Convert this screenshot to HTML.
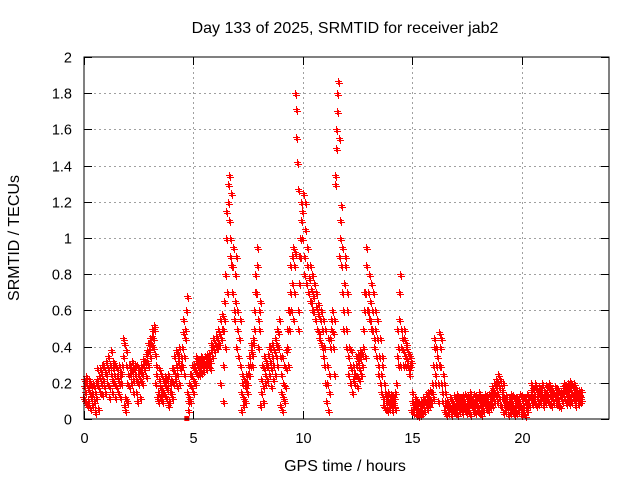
<!DOCTYPE html>
<html><head><meta charset="utf-8"><style>
body{margin:0;background:#fff;}
svg{display:block;font-family:"Liberation Sans",sans-serif;}
</style></head><body>
<svg id="chart" width="640" height="480">
<rect width="640" height="480" fill="#fff"/>
<text x="345" y="33" font-size="16" text-anchor="middle">Day 133 of 2025, SRMTID for receiver jab2</text>
<text x="345" y="471" font-size="16" text-anchor="middle">GPS time / hours</text>
<text transform="translate(19,238) rotate(-90)" font-size="16" text-anchor="middle">SRMTID / TECUs</text>
<g id="grid"></g>
<g id="ticks"></g>
<g id="marks"></g>
<rect x="84" y="57" width="525" height="362" fill="none" stroke="#000" stroke-width="1"/>
</svg>
<script>
const xTicks=[0,5,10,15,20];
const yTicks=[0,0.2,0.4,0.6,0.8,1,1.2,1.4,1.6,1.8,2];
const yTickLabels=["0","0.2","0.4","0.6","0.8","1","1.2","1.4","1.6","1.8","2"];
const tec=[
[.12,.18,.22,.1],[.15,.2,.24,.08],[.1,.17,.22,.2],[.06,.14,.19,.12],[.08,.15,.2,.18],[.1,.04,.15,.2],[.12,.22,.28,.06],[.18,.24,.28,.15],[.2,.26,.14,.3],[.22,.3,.18,.26],
[.15,.25,.32,.2],[.2,.28,.35,.12],[.18,.3,.38,.25],[.15,.22,.32,.28],[.2,.25,.3,.12],[.18,.24,.28,.22],[.15,.2,.3,.25],[.12,.2,.26,.3],[.35,.45,.42,.08],[.05,.12,.3,.38],
[.1,.2,.25,.3],[.18,.25,.3,.28],[.2,.27,.32,.15],[.22,.28,.3,.25],[.15,.22,.3,.1],[.2,.25,.28,.12],[.22,.26,.3,.2],[.25,.3,.33,.28],[.28,.32,.36,.24],[.32,.38,.42,.3],
[.38,.42,.45,.35],[.42,.46,.5,.4],[.45,.5,.52,.36],[.2,.25,.3,.12],[.1,.15,.22,.28],[.12,.18,.25,.14],[.1,.16,.22,.2],[.14,.2,.24,.18],[.12,.17,.22,.25],[.08,.1,.15,.2],
[.15,.22,.28,.12],[.2,.28,.35,.25],[.22,.3,.38,.18],[.25,.32,.36,.4],[.2,.28,.35,.3],[.3,.4,.48,.55],[.25,.35,.45,.5],[.6,.68,.15,.1],[.05,.12,.2,.25],[.1,.18,.25,.3],
[.15,.22,.28,.3],[.2,.27,.32,.35],[.25,.3,.33,.28],[.25,.28,.32,.35],[.26,.3,.34,.28],[.27,.31,.35,.3],[.28,.3,.33,.36],[.3,.33,.36,.28],[.32,.38,.42,.35],[.35,.4,.45,.38],
[.38,.42,.46,.4],[.4,.45,.5,.42],[.42,.48,.55,.2],[.45,.5,.58,.1,.3],[.5,.55,.65,.4],[.8,1.0,1.15,.7],[1.2,1.3,1.35,1.1],[.9,1.0,1.25,.85],[.7,.85,.95,.6],[.55,.65,.8,.9],
[.4,.5,.6,.35],[.35,.45,.55,.3],[.05,.15,.2,.25],[.08,.12,.22,.18],[.1,.2,.25,.15],[.2,.25,.3,.35],[.25,.3,.38,.42],[.3,.36,.42,.45],[.5,.6,.7,.8],[.7,.85,.95,.55],
[.4,.5,.6,.65],[.08,.15,.22,.3],[.1,.18,.28,.35],[.2,.25,.32,.3],[.22,.3,.36,.4],[.25,.32,.4,.18],[.28,.35,.42,.22],[.3,.38,.45,.25],[.35,.42,.5,.3],[.4,.48,.55,.35],
[.08,.15,.25,.35],[.05,.12,.2,.3],[.1,.18,.28,.38],[.4,.5,.6,.3],[.5,.6,.7,.85],[.6,.75,.9,.95],[.55,.7,.85,.92],[1.8,1.71,1.56,1.42,1.27],[.5,.6,.75,.9],[.9,1.0,1.1,1.2],
[1.0,1.15,1.25,.8],[.9,1.05,1.2,.75],[.75,.85,.95,.7],[.7,.78,.85,.65],[.65,.72,.8,.6],[.6,.68,.75,.55],[.55,.62,.7,.5],[.5,.58,.64,.45],[.48,.55,.6,.42],[.4,.5,.55,.35],
[.3,.4,.5,.2],[.1,.2,.3,.45],[.05,.15,.25,.4],[.45,.5,.55,.6],[.4,.48,.55,.25],[1.3,1.35,1.5,1.6],[1.7,1.8,1.87,1.55],[.9,1.0,1.1,1.18],[.85,.95,.7,.5],[.6,.75,.85,.9],
[.4,.5,.6,.7],[.25,.35,.4,.3],[.2,.28,.38,.15],[.15,.22,.3,.25],[.2,.25,.3,.35],[.18,.24,.32,.36],[.22,.28,.34,.38],[.25,.3,.36,.4],[.5,.6,.7,.35],[.7,.85,.95,.6],
[.6,.7,.8,.55],[.55,.65,.75,.5],[.5,.6,.7,.45],[.4,.5,.6,.35],[.35,.45,.55,.3],[.25,.35,.45,.2],[.15,.25,.35,.3],[.08,.12,.2,.15],[.06,.1,.14,.12],[.05,.1,.15,.08],
[.06,.1,.14,.12],[.05,.09,.13,.1],[.08,.12,.15,.06],[.2,.35,.5,.3],[.4,.55,.7,.8],[.3,.4,.5,.45],[.3,.38,.45,.5],[.3,.35,.4,.42],[.3,.33,.37,.28],[.25,.3,.35,.32],
[.05,.1,.15,.08],[.04,.08,.12,.1],[.03,.07,.1,.05],[.02,.05,.09,.07],[.03,.06,.1,.04],[.04,.08,.12,.06],[.05,.1,.14,.08],[.06,.1,.15,.12],[.08,.12,.16,.1],[.1,.15,.2,.12],
[.3,.4,.45,.25],[.2,.3,.4,.35],[.1,.2,.3,.48],[.3,.4,.45,.2],[.1,.15,.25,.2],[.05,.1,.15,.08],[.03,.07,.1,.05],[.04,.08,.12,.06],[.03,.06,.1,.09],[.05,.09,.13,.07],
[.04,.08,.11,.14],[.03,.07,.1,.12],[.05,.09,.12,.06],[.04,.08,.13,.1],[.06,.1,.14,.08],[.04,.07,.11,.13],[.05,.09,.12,.15],[.03,.08,.12,.1],[.05,.1,.14,.07],[.04,.09,.13,.11],
[.05,.08,.12,.15],[.04,.09,.13,.06],[.03,.07,.11,.1],[.05,.1,.14,.12],[.06,.1,.13,.08],[.05,.09,.14,.11],[.07,.11,.15,.18],[.08,.12,.16,.2],[.1,.14,.18,.22],[.1,.15,.2,.25],
[.12,.18,.22,.08],[.08,.12,.16,.2],[.04,.08,.12,.1],[.05,.09,.13,.07],[.03,.08,.12,.11],[.04,.07,.1,.14],[.05,.09,.13,.06],[.03,.06,.1,.12],[.04,.08,.12,.09],[.05,.1,.14,.07],
[.03,.07,.11,.13],[.04,.08,.12,.1],[.02,.06,.1,.14],[.05,.09,.13,.08],[.08,.12,.16,.2],[.09,.13,.17,.11],[.1,.14,.18,.2],[.08,.12,.16,.1],[.09,.14,.18,.12],[.1,.13,.17,.2],
[.08,.12,.16,.14],[.1,.15,.19,.12],[.11,.14,.18,.2],[.09,.13,.17,.15],[.08,.12,.16,.1],[.1,.14,.18,.12],[.09,.13,.17,.15],[.08,.11,.15,.13],[.07,.12,.15,.1],
[.1,.14,.18,.2],[.12,.16,.19,.09],[.11,.15,.2,.17],[.09,.13,.17,.21],[.1,.14,.19,.12],[.12,.16,.2,.08],[.1,.13,.17,.15],[.09,.12,.16,.14],[.1,.13,.16,.11]
];
const hours=tec.map((_,i)=>+(i*0.1).toFixed(1));
const NS="http://www.w3.org/2000/svg";
const X0=84,X1=609,Y0=419,Y1=57,XMAX=24,YMAX=2;
function xs(h){return X0+(X1-X0)*h/XMAX;}
function ys(v){return Y0-(Y0-Y1)*v/YMAX;}
const grid=document.getElementById('grid'),ticks=document.getElementById('ticks'),marks=document.getElementById('marks');
function line(p,x1,y1,x2,y2,st,dash){const l=document.createElementNS(NS,'line');l.setAttribute('x1',x1);l.setAttribute('y1',y1);l.setAttribute('x2',x2);l.setAttribute('y2',y2);l.setAttribute('stroke',st);if(dash)l.setAttribute('stroke-dasharray',dash);p.appendChild(l);return l;}
function txt(p,x,y,s,anchor){const t=document.createElementNS(NS,'text');t.setAttribute('x',x);t.setAttribute('y',y);t.setAttribute('font-size','14.5');t.setAttribute('text-anchor',anchor);t.textContent=s;p.appendChild(t);return t;}
yTicks.forEach((v,i)=>{const y=Math.round(ys(v))+0.5;
 if(i>0&&i<yTicks.length-1){const g=line(grid,X0,y,X1,y,'#a0a0a0','2,3');
 
 }
 line(ticks,X0,y,X0+8,y,'#000');line(ticks,X1-8,y,X1,y,'#000');
 const t=txt(ticks,72,y+5,yTickLabels[i],'end');
 
 });
xTicks.forEach((h,i)=>{const x=Math.round(xs(h))+0.5;
 if(i>0){const g=line(grid,x,Y1,x,Y0,'#a0a0a0','2,3');
 
 }
 line(ticks,x,Y0-8,x,Y0,'#000');line(ticks,x,Y1,x,Y1+8,'#000');
 const t=txt(ticks,x,443,String(h),'middle');
 
 });
let d='';
hours.forEach((h,i)=>{const vals=tec[i]||[];vals.forEach((v,j)=>{
 const x=Math.round(xs(h+(j-1.5)*0.025))+0.5,y=Math.round(ys(v))+0.5;
 d+=`M${x-3.5} ${y}h7M${x} ${y-3.5}v7M${x-2.5} ${y+2}h7M${x+1} ${y-1.5}v7`;});});
const p=document.createElementNS(NS,'path');p.setAttribute('d',d);p.setAttribute('stroke','#ff0000');p.setAttribute('fill','none');p.setAttribute('shape-rendering','crispEdges');


marks.appendChild(p);
const sq=document.createElementNS(NS,'rect');sq.setAttribute('x',xs(4.7)-2.5);sq.setAttribute('y',Y0-3);sq.setAttribute('width',5);sq.setAttribute('height',5);sq.setAttribute('fill','#ff0000');


marks.appendChild(sq);
</script>
</body></html>
